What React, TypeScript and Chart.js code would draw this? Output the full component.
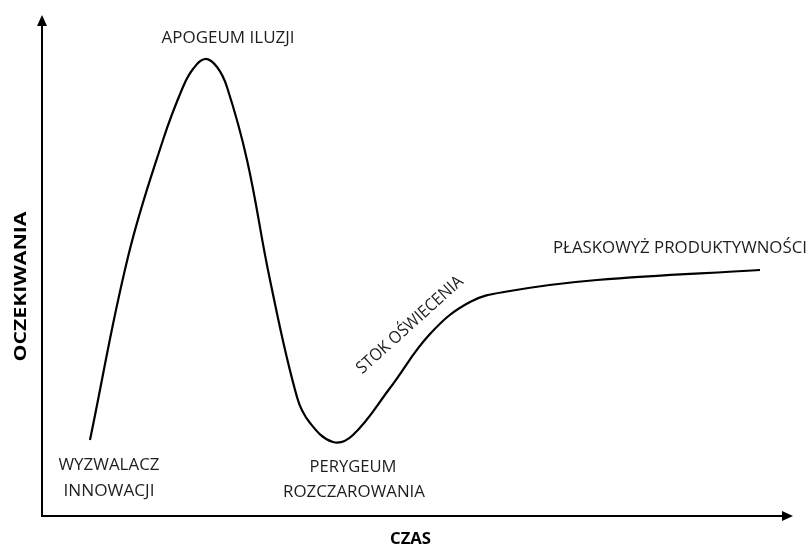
import React, { useEffect, useRef } from "react";
import { Chart, registerables } from "chart.js";

Chart.register(...registerables);

// Hype-cycle curve: time (0-100) vs expectations (0-100)
const timeValues = [6.39, 11.45, 16.11, 18.77, 20.11, 21.7, 23.3, 24.63, 27.3, 30.36, 33.95, 35.69, 38.75, 41.41, 46.34, 51.66, 56.99, 62.32, 73.9, 95.61];
const expectationValues = [15.17, 51.7, 75.05, 85.63, 89.22, 91.22, 89.62, 85.63, 71.06, 47.11, 23.75, 18.56, 14.77, 16.17, 25.55, 36.33, 42.71, 44.91, 47.11, 49.1];

// Phase annotations (in data units)
const phaseLabels = ["APOGEUM ILUZJI", "WYZWALACZ", "INNOWACJI", "PERYGEUM", "ROZCZAROWANIA", "PŁASKOWYŻ PRODUKTYWNOŚCI", "STOK OŚWIECENIA"];
const phaseLabelTime = [24.77, 8.92, 8.92, 41.41, 41.54, 84.95, 49.0];
const phaseLabelExpectation = [95.41, 10.18, 4.99, 9.78, 4.79, 53.49, 38.12];
const phaseLabelAngle = [0, 0, 0, 0, 0, 0, -42];
const phaseLabelWidth = [133, 101, 91, 87, 142, 254, 137];

const xAxisTitle = "CZAS";
const yAxisTitle = "OCZEKIWANIA";

const FONT = "'Open Sans', 'Noto Sans', sans-serif";

function drawFitted(ctx: CanvasRenderingContext2D, text: string, x: number, y: number, angle: number, width: number, font: string) {
  ctx.save();
  ctx.font = font;
  ctx.textAlign = "center";
  ctx.textBaseline = "middle";
  const m = ctx.measureText(text).width;
  ctx.translate(x, y);
  ctx.rotate((angle * Math.PI) / 180);
  ctx.scale(width / m, 1);
  ctx.fillText(text, 0, 0);
  ctx.restore();
}

const hypePlugin = {
  id: "hypeDecor",
  afterDraw(chart: any) {
    const { ctx, chartArea, scales } = chart;
    const { left, right, top, bottom } = chartArea;
    ctx.save();
    ctx.strokeStyle = "#000";
    ctx.fillStyle = "#000";
    ctx.lineWidth = 2;
    // y axis
    ctx.beginPath();
    ctx.moveTo(left, bottom);
    ctx.lineTo(left, top + 8);
    ctx.stroke();
    ctx.beginPath();
    ctx.moveTo(left, top);
    ctx.lineTo(left - 5, top + 11);
    ctx.lineTo(left + 5, top + 11);
    ctx.closePath();
    ctx.fill();
    // x axis
    ctx.beginPath();
    ctx.moveTo(left - 1, bottom);
    ctx.lineTo(right - 8, bottom);
    ctx.stroke();
    ctx.beginPath();
    ctx.moveTo(right, bottom);
    ctx.lineTo(right - 11, bottom - 5);
    ctx.lineTo(right - 11, bottom + 5);
    ctx.closePath();
    ctx.fill();

    ctx.fillStyle = "#1e1e1e";
    phaseLabels.forEach((t, i) => {
      const px = scales.x.getPixelForValue(phaseLabelTime[i]);
      const py = scales.y.getPixelForValue(phaseLabelExpectation[i]);
      drawFitted(ctx, t, px, py, phaseLabelAngle[i], phaseLabelWidth[i], `17px ${FONT}`);
    });

    ctx.fillStyle = "#000";
    drawFitted(ctx, xAxisTitle, (left + right) / 2 - 7, bottom + 23, 0, 41, `bold 16px ${FONT}`);
    drawFitted(ctx, yAxisTitle, left - 21, (top + bottom) / 2 + 21, -90, 150, `bold 16px ${FONT}`);
    ctx.restore();
  },
};

export default function App() {
  const canvasRef = useRef<HTMLCanvasElement | null>(null);

  useEffect(() => {
    if (!canvasRef.current) return;
    const data = timeValues.map((t, i) => ({ x: t, y: expectationValues[i] }));
    const chart = new Chart(canvasRef.current, {
      type: "scatter",
      data: {
        datasets: [
          {
            data,
            showLine: true,
            borderColor: "#000",
            borderWidth: 2.2,
            pointRadius: 0,
            tension: 0.4,
            clip: false,
          } as any,
        ],
      },
      options: {
        animation: false,
        responsive: true,
        maintainAspectRatio: false,
        layout: { padding: { left: 42, top: 15, right: 18, bottom: 31 } },
        scales: {
          x: { type: "linear", min: 0, max: 100, display: false },
          y: { type: "linear", min: 0, max: 100, display: false },
        },
        plugins: { legend: { display: false }, tooltip: { enabled: false } },
      },
      plugins: [hypePlugin],
    });
    return () => chart.destroy();
  }, []);

  return (
    <div style={{ position: "fixed", left: 0, top: 0, width: 811, height: 547, background: "#fff" }}>
      <canvas ref={canvasRef} />
    </div>
  );
}
